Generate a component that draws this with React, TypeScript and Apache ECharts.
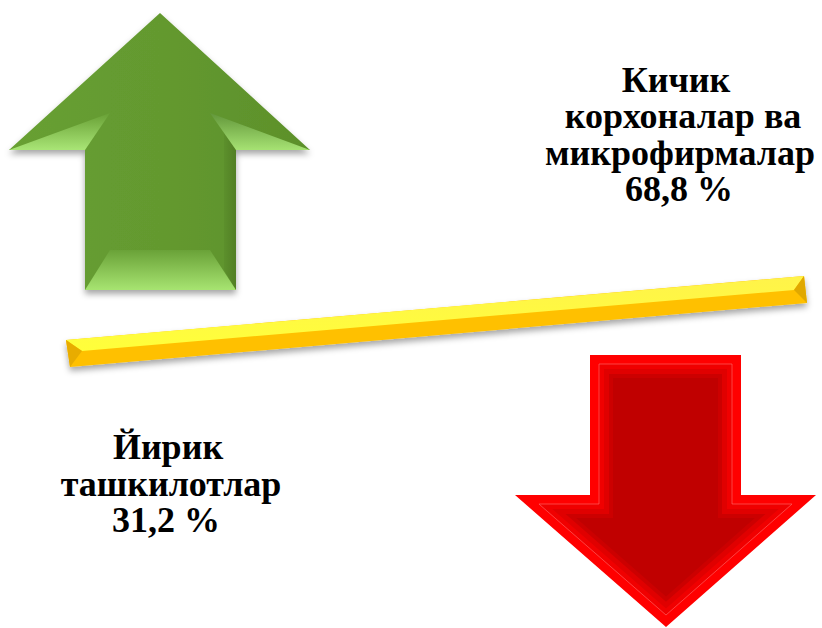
import React, { useEffect, useRef } from "react";
import * as echarts from "echarts";

// ---- data ----
const categoryLines: string[][] = [
  ["Кичик", "корхоналар ва", "микрофирмалар"],
  ["Йирик", "ташкилотлар"],
];
const shares: number[] = [68.8, 31.2];

const fmt = (v: number) => v.toFixed(1).replace(".", ",") + " %";

type Pt = [number, number];

function redInset(d: number): Pt[] {
  return [
    [590 + d, 355 + d],
    [741 - d, 355 + d],
    [741 - d, 495 + d],
    [816 - 2.66 * d, 495 + d],
    [666, 627 - 1.33 * d],
    [515 + 2.66 * d, 495 + d],
    [590 + d, 495 + d],
  ];
}

const lin = (x0: number, y0: number, x1: number, y1: number, stops: [number, string][]) =>
  new echarts.graphic.LinearGradient(
    x0,
    y0,
    x1,
    y1,
    stops.map(([offset, color]) => ({ offset, color }))
  );

function poly(points: Pt[], style: any, z = 1) {
  return { type: "polygon", z, shape: { points }, style };
}

function txt(text: string, x: number, y: number) {
  return {
    type: "text",
    z: 10,
    x,
    y,
    style: {
      text,
      fontFamily: "Liberation Serif",
      fontWeight: "bold",
      fontSize: 36,
      fill: "#000",
      align: "center",
      verticalAlign: "middle",
      textAlign: "center",
      textVerticalAlign: "middle",
    },
  };
}

export default function App() {
  const ref = useRef<HTMLDivElement>(null);
  useEffect(() => {
    if (!ref.current) return;
    const chart = echarts.init(ref.current, null, { renderer: "svg" });

    const green: any[] = [
      poly(
        [
          [160, 13],
          [310, 150],
          [236, 150],
          [236, 290],
          [85, 290],
          [85, 150],
          [9, 150],
        ],
        {
          fill: lin(0, 0, 1, 0, [
            [0, "#67A032"],
            [0.5, "#64992F"],
            [1, "#5C902B"],
          ]),
          shadowColor: "rgba(0,0,0,0.35)",
          shadowBlur: 6,
          shadowOffsetY: 4,
        },
        1
      ),
      poly(
        [
          [236, 150],
          [224, 132],
          [224, 270],
          [236, 290],
        ],
        { fill: lin(0, 0, 1, 0, [[0, "#5C902C"], [1, "#527F24"]]) },
        2
      ),
      poly(
        [
          [9, 150],
          [85, 150],
          [110, 113],
        ],
        { fill: lin(0, 0, 0, 1, [[0, "#68A035"], [1, "#A9E576"]]) },
        3
      ),
      poly(
        [
          [310, 150],
          [236, 150],
          [210, 113],
        ],
        { fill: lin(0, 0, 0, 1, [[0, "#62963A"], [1, "#A6E273"]]) },
        3
      ),
      poly(
        [
          [85, 290],
          [236, 290],
          [210, 250],
          [110, 250],
        ],
        { fill: lin(0, 0, 0, 1, [[0, "#6AA238"], [1, "#A7E471"]]) },
        3
      ),
    ];

    const yellow: any[] = [
      poly(
        [
          [66, 340],
          [804, 276],
          [807, 303],
          [70, 367],
        ],
        {
          fill: "#FFC000",
          shadowColor: "rgba(0,0,0,0.35)",
          shadowBlur: 6,
          shadowOffsetY: 4,
        },
        1
      ),
      poly(
        [
          [66, 340],
          [804, 276],
          [794, 290],
          [82, 351],
        ],
        { fill: lin(0, 0, 0, 1, [[0, "#FFF34A"], [1, "#FFFF3A"]]) },
        2
      ),
      poly(
        [
          [66, 340],
          [82, 351],
          [70, 367],
        ],
        { fill: "#E8AC00" },
        3
      ),
      poly(
        [
          [804, 276],
          [807, 303],
          [794, 290],
        ],
        { fill: "#E0A800" },
        3
      ),
    ];

    const red: any[] = [
      poly(redInset(0), { fill: "#FF0000" }, 1),
      poly(redInset(9), { fill: "#F00000", stroke: "rgba(255,110,110,0.6)", lineWidth: 1 }, 2),
      poly(redInset(14), { fill: "#E00000" }, 3),
      poly(redInset(19), { fill: "#CC0000" }, 4),
      poly(redInset(23), { fill: "#C00000" }, 5),
    ];

    const upperLines = [...categoryLines[0], fmt(shares[0])];
    const lowerLines = [...categoryLines[1], fmt(shares[1])];
    const upperX = [676, 683, 680, 679];
    const lowerX = [168, 171, 166];

    const texts: any[] = [
      ...upperLines.map((t, i) => txt(t, upperX[i], 80 + i * 36.3)),
      ...lowerLines.map((t, i) => txt(t, lowerX[i], 447 + i * 36.5)),
    ];

    chart.setOption({
      animation: false,
      backgroundColor: "#ffffff",
      graphic: { elements: [...green, ...yellow, ...red, ...texts] },
    });
    return () => chart.dispose();
  }, []);
  return (
    <div
      ref={ref}
      style={{ position: "fixed", left: 0, top: 0, width: 822, height: 628 }}
    />
  );
}
